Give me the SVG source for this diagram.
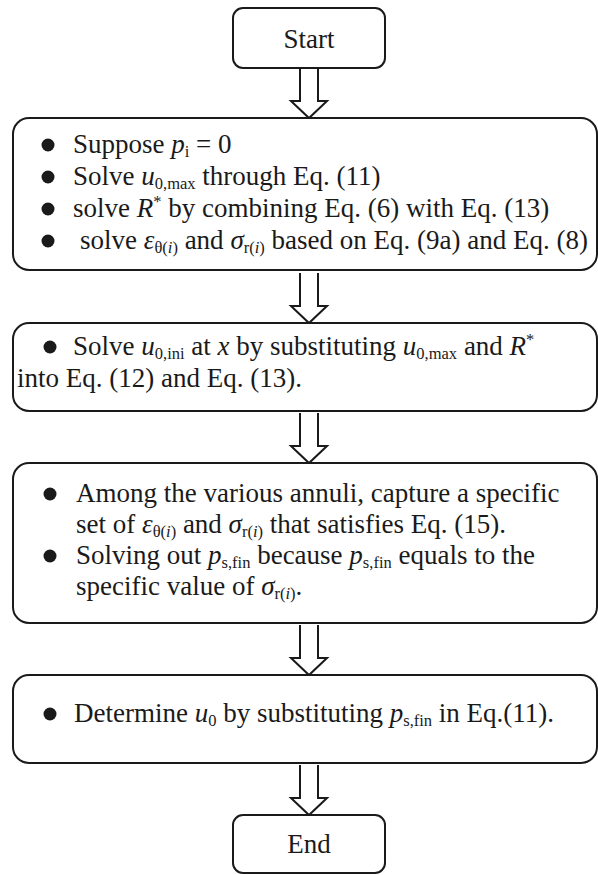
<svg xmlns="http://www.w3.org/2000/svg" width="598" height="875" viewBox="0 0 598 875" font-family="'Liberation Serif', 'Times New Roman', serif">
<style>
.box{fill:#fff;stroke:#1a1a1a;stroke-width:2}
.arr{fill:#fff;stroke:#1a1a1a;stroke-width:2;stroke-linejoin:miter}
text{font-family:'Liberation Serif','Times New Roman',serif;font-size:27px;fill:#1a1a1a}
.t{font-size:27px}
.i{font-style:italic}
.s{font-size:16.5px}
.dot{fill:#1a1a1a}
</style>
<defs>
<path id="arrowShape" d="M-9,0 V33 H-18 L0,50 L18,33 H9 V0"/>
</defs>
<g id="connectors">
<use href="#arrowShape" class="arr" transform="translate(309,68)"/>
<use href="#arrowShape" class="arr" transform="translate(309,273)"/>
<use href="#arrowShape" class="arr" transform="translate(309,413)"/>
<use href="#arrowShape" class="arr" transform="translate(309,625)"/>
<use href="#arrowShape" class="arr" transform="translate(309,765)"/>
</g>
<g id="start">
<rect class="box" x="233" y="8" width="152" height="60" rx="10"/>
<text class="t" x="309" y="48" text-anchor="middle">Start</text>
</g>
<g id="step1">
<rect class="box" x="13" y="118" width="584" height="152" rx="16"/>
<circle class="dot" cx="48" cy="145" r="6.5"/>
<circle class="dot" cx="48" cy="177" r="6.5"/>
<circle class="dot" cx="48" cy="209" r="6.5"/>
<circle class="dot" cx="48" cy="241" r="6.5"/>
<text x="73" y="153">Suppose <tspan class="i">p</tspan><tspan class="s" dy="4">i</tspan><tspan dy="-4"> = 0</tspan></text>
<text x="73" y="185">Solve <tspan class="i">u</tspan><tspan class="s" dy="4">0,max</tspan><tspan dy="-4"> through Eq. (11)</tspan></text>
<text x="73" y="217">solve <tspan class="i">R</tspan><tspan class="s" dy="-10">*</tspan><tspan dy="10"> by combining Eq. (6) with Eq. (13)</tspan></text>
<text x="80" y="249">solve <tspan class="i">ε</tspan><tspan class="s" dy="4">θ(<tspan class="i">i</tspan>)</tspan><tspan dy="-4"> and </tspan><tspan class="i">σ</tspan><tspan class="s" dy="4">r(<tspan class="i">i</tspan>)</tspan><tspan dy="-4"> based on Eq. (9a) and Eq. (8)</tspan></text>
</g>
<g id="step2">
<rect class="box" x="13" y="323" width="584" height="88" rx="16"/>
<circle class="dot" cx="50" cy="347" r="6.5"/>
<text x="73" y="355">Solve <tspan class="i">u</tspan><tspan class="s" dy="4">0,ini</tspan><tspan dy="-4"> at </tspan><tspan class="i">x</tspan> by substituting <tspan class="i">u</tspan><tspan class="s" dy="4">0,max</tspan><tspan dy="-4"> and </tspan><tspan class="i">R</tspan><tspan class="s" dy="-10">*</tspan></text>
<text x="17" y="387">into Eq. (12) and Eq. (13).</text>
</g>
<g id="step3">
<rect class="box" x="13" y="463" width="584" height="160" rx="16"/>
<circle class="dot" cx="50" cy="494" r="6.5"/>
<circle class="dot" cx="50" cy="556" r="6.5"/>
<text x="76" y="502">Among the various annuli, capture a specific</text>
<text x="76" y="533">set of <tspan class="i">ε</tspan><tspan class="s" dy="4">θ(<tspan class="i">i</tspan>)</tspan><tspan dy="-4"> and </tspan><tspan class="i">σ</tspan><tspan class="s" dy="4">r(<tspan class="i">i</tspan>)</tspan><tspan dy="-4"> that satisfies Eq. (15).</tspan></text>
<text x="76" y="564">Solving out <tspan class="i">p</tspan><tspan class="s" dy="4">s,fin</tspan><tspan dy="-4"> because </tspan><tspan class="i">p</tspan><tspan class="s" dy="4">s,fin</tspan><tspan dy="-4"> equals to the</tspan></text>
<text x="76" y="595">specific value of <tspan class="i">σ</tspan><tspan class="s" dy="4">r(<tspan class="i">i</tspan>)</tspan><tspan dy="-4">.</tspan></text>
</g>
<g id="step4">
<rect class="box" x="13" y="675" width="584" height="88" rx="16"/>
<circle class="dot" cx="50" cy="714" r="6.5"/>
<text x="74" y="722">Determine <tspan class="i">u</tspan><tspan class="s" dy="4">0</tspan><tspan dy="-4"> by substituting </tspan><tspan class="i">p</tspan><tspan class="s" dy="4">s,fin</tspan><tspan dy="-4"> in Eq.(11).</tspan></text>
</g>
<g id="end">
<rect class="box" x="233" y="815" width="152" height="58" rx="10"/>
<text class="t" x="309" y="853" text-anchor="middle">End</text>
</g>
</svg>
